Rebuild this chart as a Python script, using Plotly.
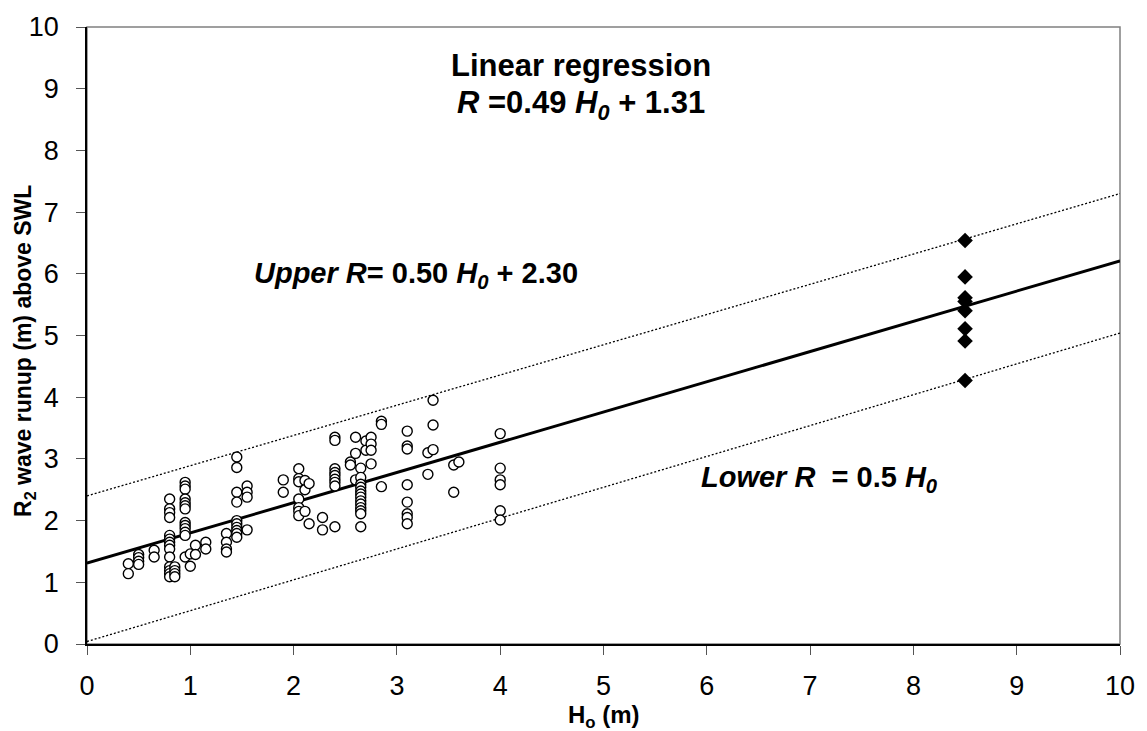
import plotly.graph_objects as go

# Observed runup data (Ho, R2) - open circles
obs_x = ([0.40]*2 + [0.50]*4 + [0.65]*2 + [0.80]*14 + [0.85]*4 + [0.95]*13 + [1.00]*2 +
         [1.05]*2 + [1.15]*2 + [1.35]*4 + [1.45]*10 + [1.55]*4 + [1.90]*2 + [2.05]*7 +
         [2.11]*3 + [2.15]*2 + [2.28]*2 + [2.40]*9 + [2.55]*2 + [2.60]*3 + [2.65]*13 +
         [2.70]*2 + [2.75]*4 + [2.85]*3 + [3.10]*8 + [3.30]*2 + [3.35]*3 + [3.55]*2 +
         [3.60]*1 + [4.00]*6)
obs_y = [1.30, 1.14,
         1.45, 1.40, 1.34, 1.29,
         1.52, 1.41,
         2.35, 2.19, 2.13, 2.05, 1.76, 1.70, 1.65, 1.60, 1.54, 1.41, 1.25, 1.19, 1.14, 1.09,
         1.25, 1.19, 1.14, 1.09,
         2.62, 2.56, 2.51, 2.35, 2.29, 2.24, 2.19, 1.97, 1.92, 1.87, 1.81, 1.76, 1.41,
         1.46, 1.26,
         1.60, 1.45,
         1.65, 1.54,
         1.79, 1.65, 1.54, 1.49,
         3.03, 2.86, 2.46, 2.30, 2.00, 1.95, 1.89, 1.84, 1.79, 1.73,
         2.56, 2.46, 2.38, 1.85,
         2.66, 2.46,
         2.84, 2.68, 2.63, 2.35, 2.21, 2.15, 2.08,
         2.65, 2.50, 2.15,
         2.60, 1.95,
         2.05, 1.85,
         3.35, 3.30, 2.84, 2.78, 2.73, 2.67, 2.62, 2.56, 1.90,
         2.95, 2.90,
         3.35, 3.09, 2.66,
         2.85, 2.70, 2.59, 2.54, 2.48, 2.43, 2.38, 2.32, 2.27, 2.21, 2.16, 2.11, 1.90,
         3.29, 3.14,
         3.35, 3.24, 3.14, 2.92,
         3.61, 3.56, 2.55,
         3.45, 3.21, 3.16, 2.58, 2.30, 2.11, 2.05, 1.95,
         3.10, 2.75,
         3.95, 3.55, 3.15,
         2.90, 2.46,
         2.95,
         3.41, 2.85, 2.66, 2.58, 2.16, 2.01]

# Extreme event values - filled diamonds
ext_x = [8.5]*8
ext_y = [6.54, 5.95, 5.61, 5.55, 5.40, 5.11, 4.91, 4.27]

# Lines
line_x = [0, 10]
reg_y = [1.31, 6.21]
upper_y = [2.40, 7.30]
lower_y = [0.04, 5.04]

x_ticks = list(range(0, 11))
y_ticks = list(range(0, 11))

FONT = "Liberation Sans, Arial, Helvetica, sans-serif"

fig = go.Figure()
fig.add_trace(go.Scatter(x=line_x, y=upper_y, mode="lines",
                         line=dict(color="black", width=1.3, dash="2px,2px"), showlegend=False))
fig.add_trace(go.Scatter(x=line_x, y=lower_y, mode="lines",
                         line=dict(color="black", width=1.3, dash="2px,2px"), showlegend=False))
fig.add_trace(go.Scatter(x=line_x, y=reg_y, mode="lines",
                         line=dict(color="black", width=3), showlegend=False))
fig.add_trace(go.Scatter(x=obs_x, y=obs_y, mode="markers",
                         marker=dict(symbol="circle", size=10, color="white",
                                     line=dict(color="black", width=1.4)),
                         showlegend=False))
fig.add_trace(go.Scatter(x=ext_x, y=ext_y, mode="markers",
                         marker=dict(symbol="diamond", size=12, color="black",
                                     line=dict(color="black", width=0)),
                         showlegend=False))

fig.add_shape(type="rect", xref="paper", yref="paper", x0=0, x1=1, y0=0, y1=1,
              line=dict(color="#808080", width=1.5), layer="below")

ann_font = dict(family=FONT, size=29, color="black")
big_font = dict(family=FONT, size=31, color="black")
fig.add_annotation(x=4.78, y=9.37, xref="x", yref="y", text="<b>Linear regression</b>",
                   showarrow=False, font=big_font, xanchor="center", yanchor="middle")
fig.add_annotation(x=4.78, y=8.74, xref="x", yref="y",
                   text="<b><i>R</i> =0.49 <i>H<sub>0</sub></i> + 1.31</b>",
                   showarrow=False, font=big_font, xanchor="center", yanchor="middle")
fig.add_annotation(x=1.60, y=5.98, xref="x", yref="y",
                   text="<b><i>Upper R</i>= 0.50 <i>H<sub>0</sub></i> + 2.30</b>",
                   showarrow=False, font=ann_font, xanchor="left", yanchor="middle")
fig.add_annotation(x=5.92, y=2.68, xref="x", yref="y",
                   text="<b><i>Lower R</i>  = 0.5 <i>H<sub>0</sub></i></b>",
                   showarrow=False, font=ann_font, xanchor="left", yanchor="middle")

# axis titles
fig.add_annotation(x=0, xref="paper", xshift=-62, y=0.475, yref="paper",
                   text="<b>R<sub>2</sub> wave runup (m) above SWL</b>", textangle=-90,
                   showarrow=False, font=dict(family=FONT, size=23, color="black"),
                   xanchor="center", yanchor="middle")
fig.add_annotation(x=0.5, xref="paper", y=0, yref="paper", yshift=-72,
                   text="<b>H<sub>o</sub> (m)</b>",
                   showarrow=False, font=dict(family=FONT, size=24, color="black"),
                   xanchor="center", yanchor="middle")

axis_common = dict(showgrid=False, zeroline=False, showline=True, linecolor="black",
                   linewidth=1.5, ticks="outside", ticklen=9, tickwidth=1.3,
                   tickcolor="#555555", tickfont=dict(family=FONT, size=27, color="black"))
fig.update_xaxes(range=[0, 10], tickvals=x_ticks, ticktext=[str(v) for v in x_ticks],
                 ticklabelstandoff=8, **axis_common)
fig.update_yaxes(range=[0, 10], tickvals=y_ticks, ticktext=[str(v) for v in y_ticks],
                 ticklabelstandoff=12, **axis_common)

fig.update_layout(width=1147, height=731, margin=dict(l=87, r=25, t=24, b=87),
                  paper_bgcolor="white", plot_bgcolor="white",
                  font=dict(family=FONT))
fig.write_html("out.html")
